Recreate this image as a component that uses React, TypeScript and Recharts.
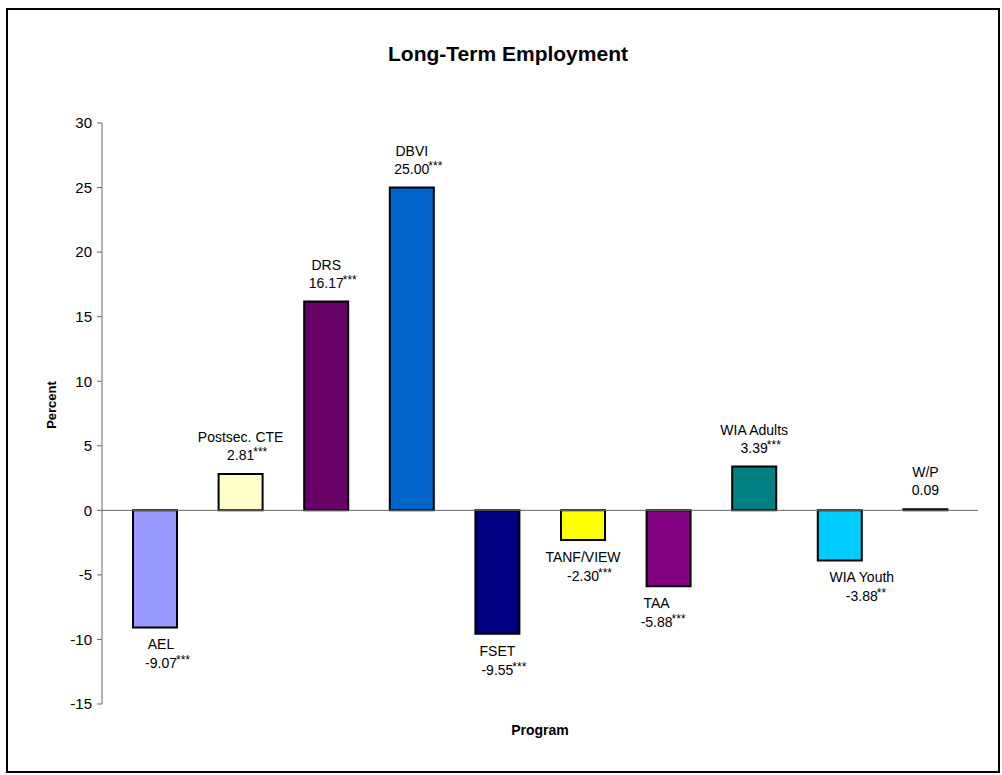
import { BarChart, Bar, XAxis, YAxis, Cell, LabelList, ReferenceLine } from 'recharts';

const programs = ['AEL', 'Postsec. CTE', 'DRS', 'DBVI', 'FSET', 'TANF/VIEW', 'TAA', 'WIA Adults', 'WIA Youth', 'W/P'];
const percentValues = [-9.07, 2.81, 16.17, 25.0, -9.55, -2.3, -5.88, 3.39, -3.88, 0.09];
const significance = ['***', '***', '***', '***', '***', '***', '***', '***', '**', ''];
const barColors = ['#9999FF', '#FFFFCC', '#660066', '#0066CC', '#000080', '#FFFF00', '#800080', '#008080', '#00CCFF', '#000000'];
const yTicks = [-15, -10, -5, 0, 5, 10, 15, 20, 25, 30];

// a few labels were dragged sideways in the original
const labelNudgeX = [6, 0, 0, 0, 0, 0, -12, 0, 22, 0];

const data = programs.map((name, i) => ({ name, value: percentValues[i], stars: significance[i] }));

const FONT = 'Arial, "Liberation Sans", Helvetica, sans-serif';
const LABEL_SIZE = 14;

// rough Arial/Liberation Sans advance widths for the number strings
function textWidth(s: string, size: number) {
  let w = 0;
  for (const ch of s) {
    if (ch === '.') w += 0.278;
    else if (ch === '-') w += 0.333;
    else w += 0.556;
  }
  return w * size;
}

function BarLabel(props: any) {
  const { x, y, width, height, index } = props;
  const d = data[index];
  const top = Math.min(y, y + height);
  const bottom = Math.max(y, y + height);
  const cx = x + width / 2 + labelNudgeX[index];
  const valueText = d.value.toFixed(2);
  const vx = cx - textWidth(valueText, LABEL_SIZE) / 2;
  const positive = d.value >= 0;
  const nameY = positive ? top - 32 : bottom + 22;
  const valueY = positive ? top - 14 : bottom + 41;
  return (
    <g fontFamily={FONT} fill="#000">
      <text x={cx} y={nameY} textAnchor="middle" fontSize={LABEL_SIZE}>
        {d.name}
      </text>
      <text x={vx} y={valueY} textAnchor="start" fontSize={LABEL_SIZE}>
        {valueText}
        {d.stars ? (
          <tspan fontSize={12} dy={-4} dx={-1}>
            {d.stars}
          </tspan>
        ) : null}
      </text>
    </g>
  );
}

export default function App() {
  return (
    <div style={{ position: 'absolute', left: 0, top: 0, width: 1002, height: 775, overflow: 'hidden', background: '#fff' }}>
      <div
        style={{
          position: 'absolute',
          left: 6,
          top: 8,
          width: 994,
          height: 765,
          border: '2px solid #000',
          boxSizing: 'border-box',
        }}
      />
      <div
        style={{
          position: 'absolute',
          left: 0,
          top: 42,
          width: 1016,
          textAlign: 'center',
          fontFamily: FONT,
          fontWeight: 'bold',
          fontSize: 21,
          lineHeight: '24px',
        }}
      >
        Long-Term Employment
      </div>
      <div
        style={{
          position: 'absolute',
          left: 52,
          top: 405,
          transform: 'translate(-50%, -50%) rotate(-90deg)',
          fontFamily: FONT,
          fontWeight: 'bold',
          fontSize: 13,
          lineHeight: '16px',
          whiteSpace: 'nowrap',
        }}
      >
        Percent
      </div>
      <div
        style={{
          position: 'absolute',
          left: 440,
          top: 722,
          width: 200,
          textAlign: 'center',
          fontFamily: FONT,
          fontWeight: 'bold',
          fontSize: 14,
          lineHeight: '16px',
        }}
      >
        Program
      </div>
      <div style={{ position: 'absolute', left: 0, top: 0 }}>
        <BarChart width={1002} height={775} data={data} margin={{ top: 123, right: 24, bottom: 71, left: 42 }}>
          <XAxis dataKey="name" hide padding={{ left: 10, right: 10 }} />
          <YAxis
            width={60}
            domain={[-15, 30]}
            ticks={yTicks}
            interval={0}
            allowDataOverflow
            stroke="#666"
            tickSize={5}
            tickMargin={5}
            tick={{ fill: '#000', fontSize: 15, fontFamily: FONT }}
          />
          <ReferenceLine y={0} stroke="#666" strokeWidth={1} />
          <Bar dataKey="value" barSize={44} stroke="#000" strokeWidth={2} isAnimationActive={false}>
            {data.map((d, i) => (
              <Cell key={d.name} fill={barColors[i]} />
            ))}
            <LabelList dataKey="value" content={BarLabel} />
          </Bar>
        </BarChart>
      </div>
    </div>
  );
}
